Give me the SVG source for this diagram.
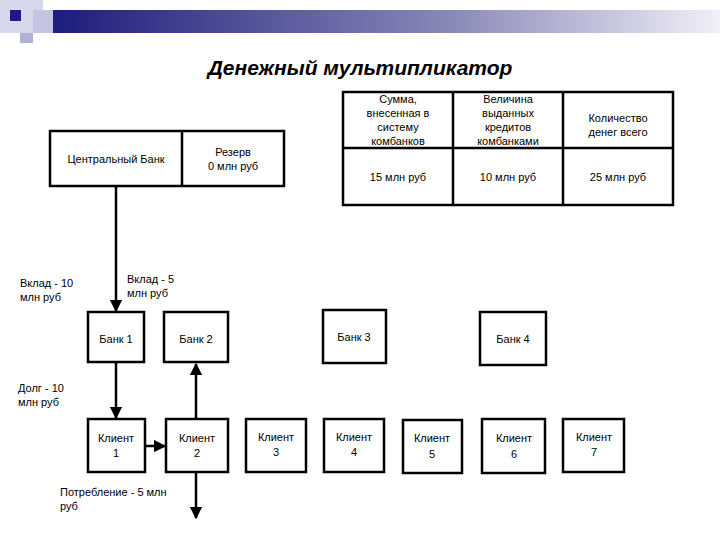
<svg xmlns="http://www.w3.org/2000/svg" width="720" height="540" viewBox="0 0 720 540">
<defs>
<linearGradient id="bar" x1="0" x2="1" y1="0" y2="0"><stop offset="0" stop-color="#1a1a7a"/><stop offset="0.6" stop-color="#8888b8"/><stop offset="1" stop-color="#f0f0f8"/></linearGradient>
<marker id="ah" viewBox="0 0 10 10" refX="9" refY="5" markerWidth="5" markerHeight="5" orient="auto"><path d="M0,0 L10,5 L0,10 z" fill="#000"/></marker>
</defs>
<style>
.b{fill:#fff;stroke:#000;stroke-width:2.5}
text{font-family:"Liberation Sans",Arial,sans-serif;font-size:11px;fill:#000}
.c{text-anchor:middle}
.l{stroke:#000;stroke-width:2.5;fill:none;marker-end:url(#ah)}
</style>
<rect width="720" height="540" fill="#fff"/>
<g id="header">
<rect x="43" y="10" width="677" height="23" fill="url(#bar)"/>
<rect x="0" y="0" width="43" height="33" fill="#d8d8ec"/>
<rect x="20" y="33" width="13" height="10" fill="#b0b0d4"/>
<rect x="33" y="10" width="20" height="23" fill="#c4c4e0"/>
<rect x="10" y="10" width="11" height="11" fill="#1a1a8a"/>
</g>
<text x="360" y="75" class="c" style="font-size:21px;font-weight:bold;font-style:italic">Денежный мультипликатор</text>
<g id="central">
<rect class="b" x="50" y="131" width="234" height="55"/>
<line x1="182" y1="131" x2="182" y2="186" stroke="#000" stroke-width="2.5"/>
<text x="116" y="163" class="c">Центральный Банк</text>
<text x="233" y="156" class="c">Резерв</text>
<text x="233" y="170" class="c">0 млн руб</text>
</g>
<g id="table">
<rect class="b" x="343" y="92" width="330" height="113"/>
<line x1="343" y1="148" x2="673" y2="148" stroke="#000" stroke-width="2.5"/>
<line x1="453" y1="92" x2="453" y2="205" stroke="#000" stroke-width="2.5"/>
<line x1="563" y1="92" x2="563" y2="205" stroke="#000" stroke-width="2.5"/>
<text x="398" y="103" class="c">Сумма,</text>
<text x="398" y="117" class="c">внесенная в</text>
<text x="398" y="131" class="c">систему</text>
<text x="398" y="145" class="c">комбанков</text>
<text x="508" y="103" class="c">Величина</text>
<text x="508" y="117" class="c">выданных</text>
<text x="508" y="131" class="c">кредитов</text>
<text x="508" y="145" class="c">комбанками</text>
<text x="618" y="122" class="c">Количество</text>
<text x="618" y="136" class="c">денег всего</text>
<text x="398" y="181" class="c">15 млн руб</text>
<text x="508" y="181" class="c">10 млн руб</text>
<text x="618" y="181" class="c">25 млн руб</text>
</g>
<g id="bank1"><rect class="b" x="88" y="312" width="56" height="50"/><text x="116" y="343" class="c">Банк 1</text></g>
<g id="bank2"><rect class="b" x="164" y="312" width="64" height="50"/><text x="196" y="343" class="c">Банк 2</text></g>
<g id="bank3"><rect class="b" x="323" y="310" width="63" height="53"/><text x="354" y="341" class="c">Банк 3</text></g>
<g id="bank4"><rect class="b" x="480" y="312" width="66" height="53"/><text x="513" y="343" class="c">Банк 4</text></g>
<g id="client1"><rect class="b" x="88" y="419" width="57" height="53"/><text x="116" y="442" class="c">Клиент</text><text x="116" y="457" class="c">1</text></g>
<g id="client2"><rect class="b" x="166" y="419" width="62" height="53"/><text x="197" y="442" class="c">Клиент</text><text x="197" y="457" class="c">2</text></g>
<g id="client3"><rect class="b" x="246" y="419" width="60" height="53"/><text x="276" y="441" class="c">Клиент</text><text x="276" y="456" class="c">3</text></g>
<g id="client4"><rect class="b" x="324" y="419" width="60" height="53"/><text x="354" y="441" class="c">Клиент</text><text x="354" y="456" class="c">4</text></g>
<g id="client5"><rect class="b" x="403" y="420" width="59" height="53"/><text x="432" y="442" class="c">Клиент</text><text x="432" y="458" class="c">5</text></g>
<g id="client6"><rect class="b" x="482" y="419" width="63" height="54"/><text x="514" y="442" class="c">Клиент</text><text x="514" y="458" class="c">6</text></g>
<g id="client7"><rect class="b" x="563" y="419" width="61" height="53"/><text x="594" y="441" class="c">Клиент</text><text x="594" y="456" class="c">7</text></g>
<g id="connectors">
<line class="l" x1="116" y1="187" x2="116" y2="311"/>
<line class="l" x1="116" y1="363" x2="116" y2="418"/>
<line class="l" x1="196" y1="419" x2="196" y2="364"/>
<line class="l" x1="145" y1="446" x2="165" y2="446"/>
<line class="l" x1="196" y1="472" x2="196" y2="518"/>
</g>
<g id="labels">
<text x="20" y="287">Вклад - 10</text><text x="20" y="301">млн руб</text>
<text x="127" y="283">Вклад - 5</text><text x="127" y="297">млн руб</text>
<text x="18" y="392">Долг - 10</text><text x="18" y="406">млн руб</text>
<text x="60" y="496">Потребление - 5 млн</text><text x="60" y="510">руб</text>
</g>
</svg>
